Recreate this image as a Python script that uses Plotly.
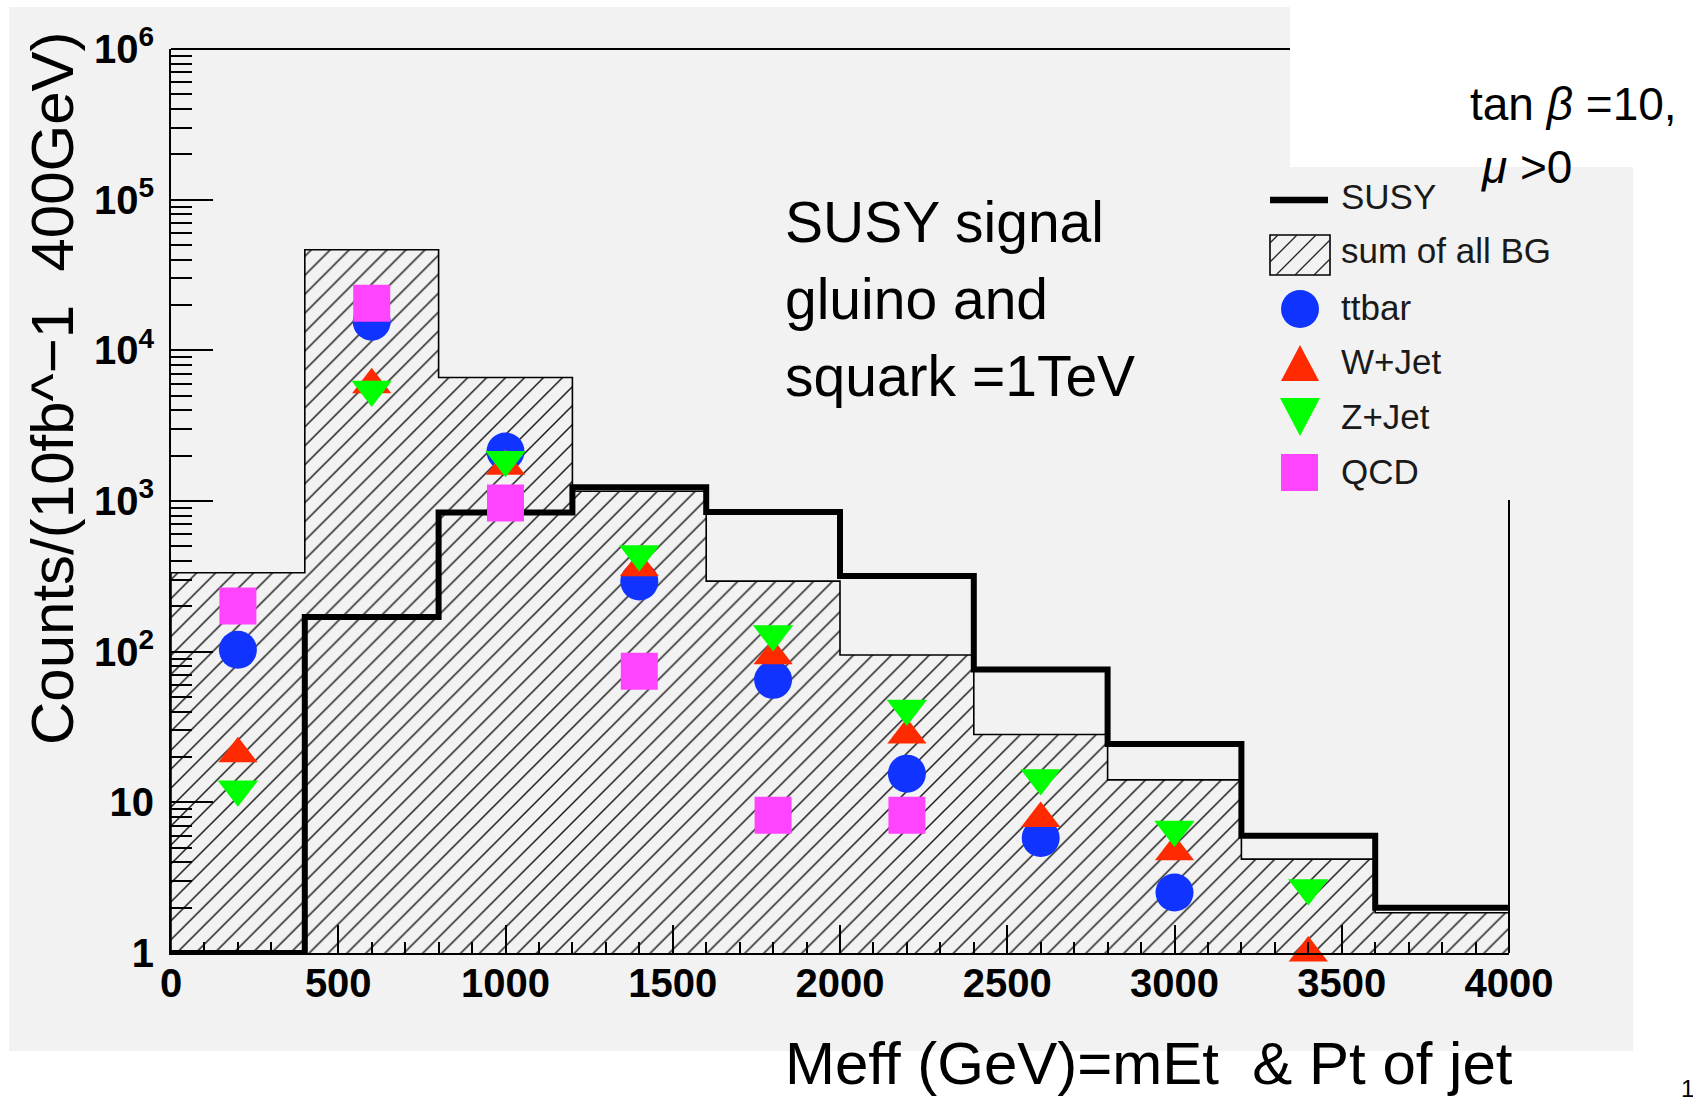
import plotly.graph_objects as go

# ---- binning (GeV) ----
bin_edges = [0, 400, 800, 1200, 1600, 2000, 2400, 2800, 3200, 3600, 4000]
bin_centers = [200, 600, 1000, 1400, 1800, 2200, 2600, 3000, 3400]

# ---- counts per 400 GeV for 10 fb^-1 ----
susy_counts = [1.0, 170, 838, 1235, 845, 318, 76, 24.4, 6.0, 2.0]
bg_total = [334, 46500, 6600, 1160, 294, 95, 28.2, 14.1, 4.2, 1.85]

ttbar = [103, 15500, 2130, 292, 65, 15.5, 5.8, 2.52, None]
w_jet = [21, 5900, 1700, 360, 94, 28, 7.8, 4.7, 1.0]
z_jet = [12.2, 5500, 1880, 445, 131, 42, 14.5, 6.6, 2.7]
qcd = [201, 20500, 970, 74, 8.2, 8.2, None, None, None]

# ---- axis ticks ----
x_tick_vals = [0, 500, 1000, 1500, 2000, 2500, 3000, 3500, 4000]
x_tick_text = ["0", "500", "1000", "1500", "2000", "2500", "3000", "3500", "4000"]
y_tick_vals = [1, 10, 100, 1e3, 1e4, 1e5, 1e6]
y_tick_text = ["1", "10", "10<sup>2</sup>", "10<sup>3</sup>", "10<sup>4</sup>",
               "10<sup>5</sup>", "10<sup>6</sup>"]
y_minor_vals = [m * 10 ** k for k in range(6) for m in range(2, 10)]

# ---- page geometry (pixels) ----
W, H = 1693, 1097
L, R, T, B = 171, 1509, 49, 953
CANVAS = "#f2f2f2"
TICK_FONT = dict(family="Liberation Sans, Arial, sans-serif", size=40,
                 color="black", weight="bold")
TEXT_FONT = "Liberation Sans, Arial, sans-serif"


def px(x):
    return (x - L) / (R - L)


def py(y):
    return (B - y) / (B - T)


fig = go.Figure()

# sum of all backgrounds: hatched step histogram
bg_x, bg_y = [bin_edges[0]], [1]
for i, v in enumerate(bg_total):
    bg_x += [bin_edges[i], bin_edges[i + 1]]
    bg_y += [v, v]
bg_x.append(bin_edges[-1])
bg_y.append(1)
fig.add_trace(go.Scatter(
    x=bg_x, y=bg_y, mode="lines", fill="toself",
    fillcolor="rgba(0,0,0,0)",
    fillpattern=dict(shape="/", fgcolor="#1a1a1a", bgcolor="rgba(0,0,0,0)",
                     size=13.4, solidity=0.11, fillmode="replace"),
    line=dict(color="black", width=1.6),
    hoverinfo="skip", showlegend=False,
))

# SUSY signal: thick step line
fig.add_trace(go.Scatter(
    x=bin_edges, y=susy_counts + [susy_counts[-1]], mode="lines",
    line=dict(color="black", width=6, shape="hv"),
    hoverinfo="skip", showlegend=False,
))

# individual backgrounds
series = [
    ("ttbar", ttbar, "circle", 38, "#1133ff"),
    ("W+Jet", w_jet, "triangle-up", 34, "#ff2a00"),
    ("Z+Jet", z_jet, "triangle-down", 35, "#00ff00"),
    ("QCD", qcd, "square", 37, "#ff44ff"),
]
for name, vals, sym, size, col in series:
    fig.add_trace(go.Scatter(
        x=bin_centers, y=vals, mode="markers", name=name,
        marker=dict(symbol=sym, size=size, color=col, line=dict(width=0)),
        cliponaxis=False, showlegend=False,
    ))

shapes = []
# canvas background with the white corner cut-out
shapes.append(dict(type="rect", xref="paper", yref="paper", layer="below",
                   x0=px(9), x1=px(1633), y0=py(1051), y1=py(7),
                   fillcolor=CANVAS, line=dict(width=0)))
shapes.append(dict(type="rect", xref="paper", yref="paper", layer="below",
                   x0=px(1290), x1=px(1640), y0=py(167), y1=py(0),
                   fillcolor="white", line=dict(width=0)))
# frame pieces (top and right)
shapes.append(dict(type="line", xref="paper", yref="paper",
                   x0=0, x1=px(1290), y0=1, y1=1,
                   line=dict(color="black", width=2)))
shapes.append(dict(type="line", xref="paper", yref="paper",
                   x0=1, x1=1, y0=0, y1=py(500),
                   line=dict(color="black", width=2)))

# ---- legend keys ----
# SUSY line
shapes.append(dict(type="line", xref="paper", yref="paper",
                   x0=px(1270), x1=px(1328), y0=py(200), y1=py(200),
                   line=dict(color="black", width=6.5)))
# hatched box
bx0, bx1, by0, by1 = 1270, 1330, 235, 275
shapes.append(dict(type="rect", xref="paper", yref="paper",
                   x0=px(bx0), x1=px(bx1), y0=py(by1), y1=py(by0),
                   line=dict(color="black", width=1.6)))
hh = by1 - by0
start = bx0 - hh + 8
while start < bx1:
    # segment from (start, by1) to (start + hh, by0), clipped to the box
    sx0, sy0 = start, by1
    sx1, sy1 = start + hh, by0
    if sx0 < bx0:
        sy0 = by1 - (bx0 - sx0)
        sx0 = bx0
    if sx1 > bx1:
        sy1 = by0 + (sx1 - bx1)
        sx1 = bx1
    if sx1 > sx0:
        shapes.append(dict(type="line", xref="paper", yref="paper",
                           x0=px(sx0), x1=px(sx1), y0=py(sy0), y1=py(sy1),
                           line=dict(color="#222222", width=1.3)))
    start += 19
# ttbar circle
shapes.append(dict(type="circle", xref="paper", yref="paper",
                   x0=px(1281), x1=px(1319), y0=py(328), y1=py(290),
                   fillcolor="#1133ff", line=dict(width=0)))


def tri_path(cx, cy, w, h, up=True):
    if up:
        pts = [(cx - w / 2, cy + h / 2), (cx + w / 2, cy + h / 2), (cx, cy - h / 2)]
    else:
        pts = [(cx - w / 2, cy - h / 2), (cx + w / 2, cy - h / 2), (cx, cy + h / 2)]
    return "M" + "L".join(f"{px(a):.5f},{py(b):.5f}" for a, b in pts) + "Z"


shapes.append(dict(type="path", xref="paper", yref="paper",
                   path=tri_path(1300, 363, 38, 36, up=True),
                   fillcolor="#ff2a00", line=dict(width=0)))
shapes.append(dict(type="path", xref="paper", yref="paper",
                   path=tri_path(1300, 417, 40, 38, up=False),
                   fillcolor="#00ff00", line=dict(width=0)))
shapes.append(dict(type="rect", xref="paper", yref="paper",
                   x0=px(1281), x1=px(1318), y0=py(491), y1=py(454),
                   fillcolor="#ff44ff", line=dict(width=0)))

annotations = []
for label, yc in [("SUSY", 196), ("sum of all BG", 251), ("ttbar", 307),
                  ("W+Jet", 361), ("Z+Jet", 416), ("QCD", 471)]:
    annotations.append(dict(text=label, xref="paper", yref="paper",
                            x=px(1339), y=py(yc), xanchor="left", yanchor="middle",
                            showarrow=False,
                            font=dict(family=TEXT_FONT, size=35, color="#1a1a1a")))

# slide text
for label, yc in [("SUSY signal", 222), ("gluino and", 299), ("squark =1TeV", 376)]:
    annotations.append(dict(text=label, xref="paper", yref="paper",
                            x=px(783), y=py(yc), xanchor="left", yanchor="middle",
                            showarrow=False,
                            font=dict(family=TEXT_FONT, size=57, color="black")))
annotations.append(dict(text="tan <i>β</i> =10,", xref="paper", yref="paper",
                        x=px(1468), y=py(104), xanchor="left", yanchor="middle",
                        showarrow=False,
                        font=dict(family=TEXT_FONT, size=46, color="black")))
annotations.append(dict(text="<i>μ</i> >0", xref="paper", yref="paper",
                        x=px(1479), y=py(167), xanchor="left", yanchor="middle",
                        showarrow=False,
                        font=dict(family=TEXT_FONT, size=46, color="black")))
# axis titles
annotations.append(dict(text="Counts/(10fb^−1  400GeV)", xref="paper", yref="paper",
                        x=px(52), y=py(388), xanchor="center", yanchor="middle",
                        textangle=-90, showarrow=False,
                        font=dict(family=TEXT_FONT, size=60, color="black")))
annotations.append(dict(text="Meff (GeV)=mEt  & Pt of jet", xref="paper", yref="paper",
                        x=px(783), y=py(1063), xanchor="left", yanchor="middle",
                        showarrow=False,
                        font=dict(family=TEXT_FONT, size=60, color="black")))
annotations.append(dict(text="1", xref="paper", yref="paper",
                        x=px(1688), y=py(1088), xanchor="center", yanchor="middle",
                        showarrow=False,
                        font=dict(family=TEXT_FONT, size=24, color="black")))

fig.update_layout(
    template="none",
    width=W, height=H, autosize=False,
    margin=dict(l=L, r=W - R, t=T, b=H - B, pad=0),
    paper_bgcolor="white", plot_bgcolor="rgba(0,0,0,0)",
    showlegend=False,
    shapes=shapes, annotations=annotations,
    xaxis=dict(
        range=[0, 4000], tickmode="array", tickvals=x_tick_vals, ticktext=x_tick_text,
        ticks="inside", ticklen=28, tickwidth=1.5, tickcolor="black",
        minor=dict(ticks="inside", ticklen=11, tickwidth=1.5, tickcolor="black",
                   tick0=0, dtick=100, showgrid=False),
        showline=True, linewidth=2, linecolor="black", mirror=False,
        showgrid=False, zeroline=False, tickfont=TICK_FONT, ticklabelstandoff=-6,
    ),
    yaxis=dict(
        type="log", range=[0, 6], tickmode="array", tickvals=y_tick_vals,
        ticktext=y_tick_text,
        ticks="inside", ticklen=42, tickwidth=1.5, tickcolor="black",
        minor=dict(ticks="inside", ticklen=21, tickwidth=1.5, tickcolor="black",
                   tickmode="array", tickvals=y_minor_vals, showgrid=False),
        showline=True, linewidth=2, linecolor="black", mirror=False,
        showgrid=False, zeroline=False, tickfont=TICK_FONT, ticklabelstandoff=7,
    ),
)

fig.write_html("out.html")
